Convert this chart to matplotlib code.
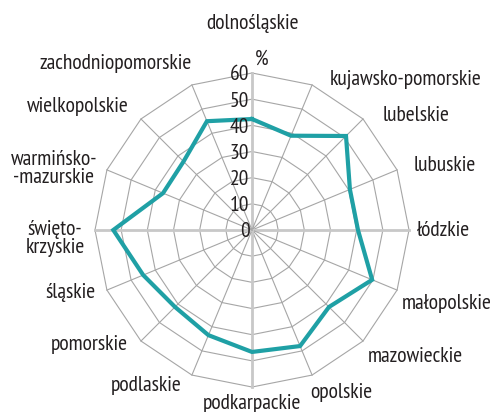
import numpy as np
import matplotlib.pyplot as plt

plt.rcParams['font.family'] = ['PT Sans Narrow', 'DejaVu Sans']

# województwa, clockwise from the top
regiony = ['dolnośląskie', 'kujawsko-pomorskie', 'lubelskie', 'lubuskie',
           'łódzkie', 'małopolskie', 'mazowieckie', 'opolskie',
           'podkarpackie', 'podlaskie', 'pomorskie', 'śląskie',
           'święto-\nkrzyskie', 'warmińsko-\n-mazurskie', 'wielkopolskie',
           'zachodniopomorskie']
wartosci = [42.4, 39.0, 50.8, 40.5, 40.5, 49.7, 41.6, 48.0,
            46.6, 43.5, 41.6, 45.0, 53.0, 36.8, 37.0, 45.0]
skala = [0, 10, 20, 30, 40, 50, 60]
jednostka = '%'

# where each region name sits (same units as the radial scale)
pozycje_etykiet = [(0, 79.5), (58.8, 58.5), (62.7, 44.7), (73.7, 25.6),
                   (73.0, 0.4), (74.5, -27.5), (62.3, -47.4), (34.0, -61.5),
                   (0, -65.7), (-40.5, -58.8), (-62.3, -42.8), (-69.2, -23.3),
                   (-75.3, -2.7), (-75.7, 24.1), (-66.5, 48.1), (-52.3, 64.2)]

n = len(regiony)
kat = np.arange(n) * 2 * np.pi / n
sx, sy = np.sin(kat), np.cos(kat)

px = 2.617  # pixels per unit
fig = plt.figure(figsize=(4.91, 4.12), dpi=100)
ax = fig.add_axes([0, 0, 1, 1])
ax.set_xlim(-252 / px, 239 / px)
ax.set_ylim(-182 / px, 230 / px)
ax.axis('off')

kolor_tekstu = '#231f20'
rozmiar = 15.5

# polygon rings
for r in skala[1:]:
    ax.plot(np.append(sx, sx[0]) * r, np.append(sy, sy[0]) * r,
            color='#a6a6a6', lw=0.8, zorder=1)

# spokes, the four main axes lighter and wider
rmax = skala[-1]
for i in range(n):
    if i % 4 == 0:
        ax.plot([0, sx[i] * rmax], [0, sy[i] * rmax], color='#c8c8c8', lw=2.0, zorder=1)
    else:
        ax.plot([0, sx[i] * rmax], [0, sy[i] * rmax], color='#a6a6a6', lw=0.8, zorder=1)

w = np.array(wartosci)
ax.plot(np.append(sx * w, sx[0] * w[0]), np.append(sy * w, sy[0] * w[0]),
        color='#1fa0a5', lw=3, solid_joinstyle='miter', zorder=3)

for r in skala:
    ax.text(-1.0, r, str(r), ha='right', va='center_baseline', fontsize=rozmiar,
            color=kolor_tekstu, zorder=4)
ax.text(3.8, 66.1, jednostka, ha='center', va='center_baseline', fontsize=rozmiar,
        color=kolor_tekstu)

for nazwa, (x, y) in zip(regiony, pozycje_etykiet):
    ax.text(x, y, nazwa, ha='center', va='center_baseline', fontsize=rozmiar,
            color=kolor_tekstu, linespacing=0.95)

fig.savefig('out.png', dpi=100)
